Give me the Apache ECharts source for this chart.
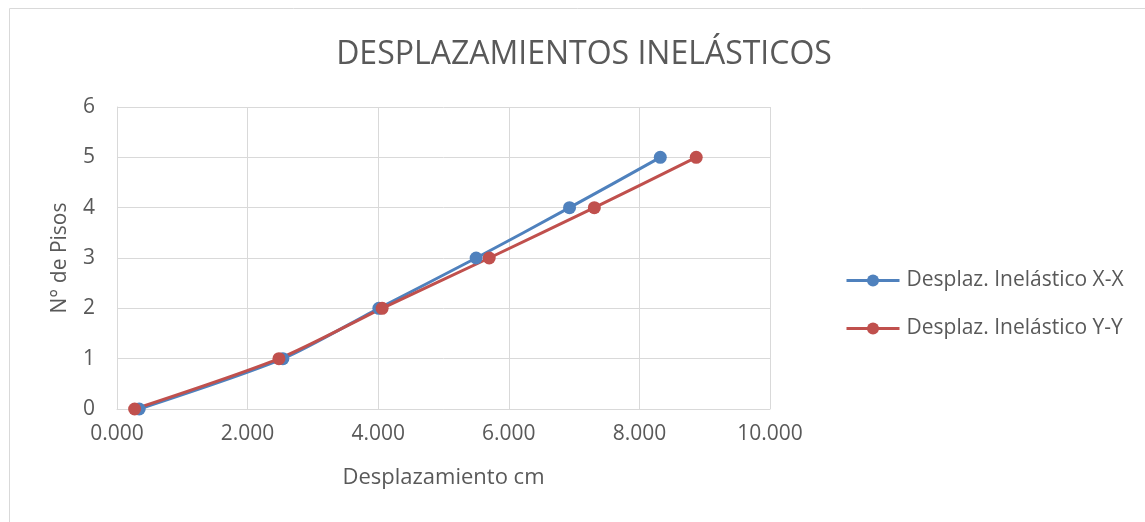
<!DOCTYPE html>
<html><head><meta charset="utf-8">
<script src="https://cdn.jsdelivr.net/npm/echarts@6/dist/echarts.min.js"></script>
<style>html,body{margin:0;padding:0;background:#fff}#c{width:1145px;height:522px}</style>
</head><body><div id="c"></div>
<script>
const pisos = [0, 1, 2, 3, 4, 5];
const despXX = [0.34, 2.54, 4.01, 5.50, 6.93, 8.32];
const despYY = [0.27, 2.48, 4.06, 5.70, 7.31, 8.87];
const seriesNames = ['Desplaz. Inelástico X-X', 'Desplaz. Inelástico Y-Y'];
const FONT = '"Open Sans", sans-serif';
const chart = echarts.init(document.getElementById('c'));
const mk = (xs) => xs.map((x, i) => [x, pisos[i]]);
chart.setOption({
  animation: false,
  color: ['#4F81BD', '#C0504D'],
  title: { text: 'DESPLAZAMIENTOS INELÁSTICOS', left: 579, top: 34, textAlign: 'center',
    textStyle: { fontFamily: FONT, fontSize: 32, fontWeight: 'normal', color: '#595959' } },
  graphic: [{ type: 'rect', shape: { x: 9.5, y: 8.5, width: 1200, height: 600 },
    style: { fill: 'none', stroke: '#D9D9D9', lineWidth: 1 }, silent: true }],
  legend: { orient: 'vertical', left: 845, top: 270, padding: 0, itemGap: 27, itemWidth: 53, itemHeight: 15,
    lineStyle: { width: 3 },
    textStyle: { fontFamily: FONT, fontSize: 21, color: '#595959', padding: [0, 0, 0, 2] },
    data: seriesNames },
  grid: { left: 117, right: 375, top: 107, bottom: 113 },
  xAxis: { type: 'value', min: 0, max: 10, interval: 2,
    name: 'Desplazamiento cm', nameLocation: 'middle', nameGap: 58,
    nameTextStyle: { fontFamily: FONT, fontSize: 22, color: '#595959' },
    axisLine: { show: true, lineStyle: { color: '#D9D9D9' } }, axisTick: { show: false },
    axisLabel: { formatter: v => v.toFixed(3), fontFamily: FONT, fontSize: 21, color: '#595959', margin: 15 },
    splitLine: { show: true, lineStyle: { color: '#D9D9D9' } } },
  yAxis: { type: 'value', min: 0, max: 6, interval: 1,
    name: 'N° de Pisos', nameLocation: 'middle', nameGap: 46, nameRotate: 90,
    nameTextStyle: { fontFamily: FONT, fontSize: 21, color: '#595959' },
    axisLine: { show: true, lineStyle: { color: '#D9D9D9' } }, axisTick: { show: false },
    axisLabel: { fontFamily: FONT, fontSize: 21, color: '#595959', margin: 22 },
    splitLine: { show: true, lineStyle: { color: '#D9D9D9' } } },
  series: [
    { name: seriesNames[0], type: 'line', data: mk(despXX), smooth: 0.25, symbol: 'circle', symbolSize: 13,
      lineStyle: { width: 3 } },
    { name: seriesNames[1], type: 'line', data: mk(despYY), smooth: 0.25, symbol: 'circle', symbolSize: 13,
      lineStyle: { width: 3 } }
  ]
});
</script></body></html>
